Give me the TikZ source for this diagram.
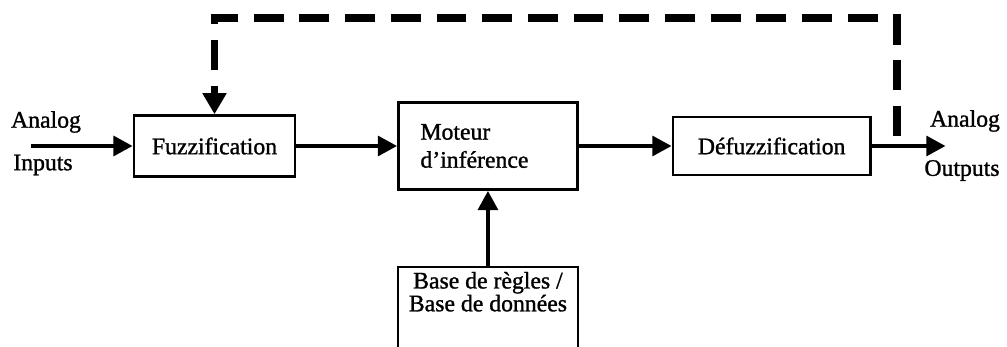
\documentclass[tikz,border=0pt]{standalone}
\usepackage{fontspec}
\setmainfont{Liberation Serif}[FakeBold=1.2]
\usetikzlibrary{arrows.meta, positioning}
\tikzstyle{block} = [rectangle, draw=black, line width=1.4pt, align=center, inner sep=1mm, font=\fontsize{13.5}{16}\selectfont]
\tikzstyle{arrow} = [line width=2.8pt, -{Triangle[length=11pt, width=11pt]}]
\tikzstyle{fbarrow} = [line width=4.5pt, dash pattern=on 17pt off 9pt, -{Triangle[length=12pt, width=13pt]}]
\tikzstyle{lbl} = [inner sep=0pt, font=\fontsize{13.5}{16}\selectfont]

\begin{document}
\begin{tikzpicture}
      \useasboundingbox (0,0) rectangle (20.14,6.94);
      \node[block, minimum width=3.22cm, minimum height=1.22cm] (fuzz) at (4.29,4.02) {Fuzzification};
      \node[block, minimum width=3.58cm, minimum height=1.74cm, text width=2.7cm, inner xsep=0.44cm, align=left, right=2.02cm of fuzz] (moteur) {Moteur\\d'inférence};
      \node[block, minimum width=3.95cm, minimum height=1.16cm, right=1.86cm of moteur] (defuzz) {Défuzzification};
      \node[block, minimum width=3.6cm, inner ysep=1mm, text depth=1.5cm, font=\fontsize{13.5}{13}\selectfont, below=1.5cm of moteur] (base) {Base de règles /\\Base de données};

      \coordinate[left=2.04cm of fuzz.west] (in);
      \coordinate[right=1.48cm of defuzz.east] (out);
      \coordinate[above right=0.2cm and 0.5cm of defuzz.east] (fb);

      \node[lbl] (inA) at (0.92,4.5) {Analog};
      \node[lbl] (inB) at (0.86,3.64) {Inputs};
      \node[lbl] (outA) at (19.3,4.52) {Analog};
      \node[lbl] (outB) at (19.24,3.53) {Outputs};

      \draw[arrow] (in) -- (fuzz);
      \draw[arrow] (fuzz) -- (moteur);
      \draw[arrow] (moteur) -- (defuzz);
      \draw[arrow] (defuzz) -- (out);
      \draw[arrow] (base) -- (moteur);
      \draw[fbarrow] (fb) -- ++(0,2.36) -| (fuzz.north);
    \end{tikzpicture}
\end{document}
